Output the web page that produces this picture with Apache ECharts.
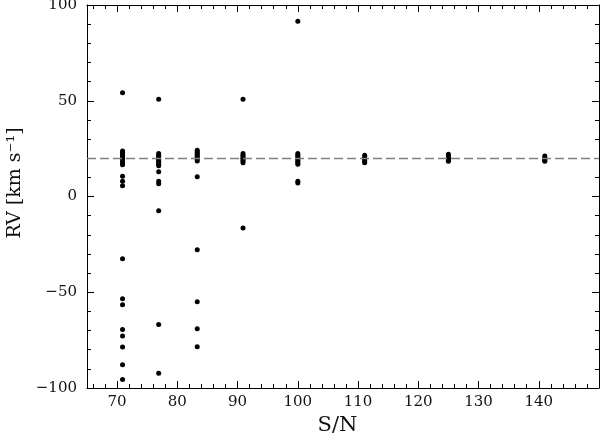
<!DOCTYPE html>
<html>
<head>
<meta charset="utf-8">
<script src="https://cdn.jsdelivr.net/npm/echarts@6/dist/echarts.min.js"></script>
<style>
html,body{margin:0;padding:0;background:#fff;}
#chart{width:601px;height:437px;}
</style>
</head>
<body>
<div id="chart"></div>
<script>
// S/N levels (x positions of the columns)
const snLevels = [70.9, 76.9, 83.3, 90.9, 100, 111.1, 125, 141];
// RV values for each S/N column
const rvSN71  = [54.2, 23.8, 23, 22.2, 21.4, 20.6, 19.8, 19, 18.2, 17.4, 16.6, 10.6, 8, 5.6, -32.5, -53.4, -56.5, -69.4, -72.9, -78.6, -87.8, -95.5];
const rvSN77  = [50.8, 22.4, 21.6, 20.8, 20, 19.2, 18.4, 17.6, 16.8, 16, 12.9, 8, 6.6, -7.5, -66.8, -92.3];
const rvSN83  = [24.2, 23.4, 22.6, 21.8, 21, 20.2, 19.4, 18.6, 10.3, -27.8, -54.9, -69, -78.4];
const rvSN91  = [50.8, 22.4, 21.6, 20.8, 20, 19.2, 18.4, 17.6, -16.5];
const rvSN100 = [91.5, 22.4, 21.6, 20.8, 20, 19.2, 18.4, 17.6, 16.8, 8, 7.1];
const rvSN111 = [21.5, 20.7, 19.9, 19.1, 18.3, 17.6];
const rvSN125 = [22, 21.2, 20.4, 19.6, 18.8, 18.4];
const rvSN141 = [21.1, 20.3, 19.5, 18.8, 18.4];
const rvColumns = [rvSN71, rvSN77, rvSN83, rvSN91, rvSN100, rvSN111, rvSN125, rvSN141];
// reference line
const rvReference = 20;
// axis ranges
const xRange = [65, 150];
const yRange = [-100, 100];
const yStep = 50;

const points = [];
snLevels.forEach((sn, i) => rvColumns[i].forEach(rv => points.push([sn, rv])));

const FONT = 'DejaVu Serif';
const txt = '#111';

function xAxisCfg(pos, showLabels) {
  return {
    type: 'value', position: pos, min: xRange[0], max: xRange[1],
    splitNumber: 8, minInterval: 10, maxInterval: 10,
    axisLine: { show: true, onZero: false, lineStyle: { color: '#000', width: 1 } },
    axisTick: { show: true, inside: true, length: 7, lineStyle: { color: '#000', width: 1 } },
    minorTick: { show: true, splitNumber: 5, length: 4, lineStyle: { color: '#000', width: 1 } },
    splitLine: { show: false },
    axisLabel: {
      show: showLabels, showMinLabel: false, showMaxLabel: false, margin: 7,
      fontFamily: FONT, fontSize: 15, color: txt
    },
    name: showLabels ? 'S/N' : '',
    nameLocation: 'middle', nameGap: 25,
    nameTextStyle: { fontFamily: FONT, fontSize: 21, color: txt, padding: [0, 11, 0, 0] }
  };
}
function yAxisCfg(pos, showLabels) {
  return {
    type: 'value', position: pos, min: yRange[0], max: yRange[1], interval: yStep,
    axisLine: { show: true, onZero: false, lineStyle: { color: '#000', width: 1 } },
    axisTick: { show: true, inside: true, length: 7, lineStyle: { color: '#000', width: 1 } },
    minorTick: { show: true, splitNumber: 5, length: 4, lineStyle: { color: '#000', width: 1 } },
    splitLine: { show: false },
    axisLabel: {
      show: showLabels, margin: 10, fontFamily: FONT, fontSize: 15, color: txt,
      formatter: v => (v < 0 ? '\u2212' + Math.abs(v) : String(v))
    },
    name: showLabels ? 'RV [km s\u207B\u00B9]' : '',
    nameLocation: 'middle', nameGap: 55,
    nameTextStyle: { fontFamily: FONT, fontSize: 19, color: txt, padding: [0, 0, 0, 27] }
  };
}

const chart = echarts.init(document.getElementById('chart'), null, { renderer: 'canvas' });
chart.setOption({
  animation: false,
  backgroundColor: '#fff',
  grid: { left: 87, right: 2, top: 5, bottom: 49, containLabel: false, outerBoundsMode: 'none' },
  xAxis: [xAxisCfg('bottom', true), xAxisCfg('top', false)],
  yAxis: [yAxisCfg('left', true), yAxisCfg('right', false)],
  series: [{
    type: 'scatter',
    xAxisIndex: 0, yAxisIndex: 0,
    data: points,
    symbol: 'circle', symbolSize: 5,
    itemStyle: { color: '#000', opacity: 1 },
    markLine: {
      silent: true, symbol: ['none', 'none'], animation: false,
      label: { show: false },
      lineStyle: { color: '#808080', width: 1.3, type: [9, 4] },
      data: [{ yAxis: rvReference }]
    },
    z: 3
  }]
});
</script>
</body>
</html>
